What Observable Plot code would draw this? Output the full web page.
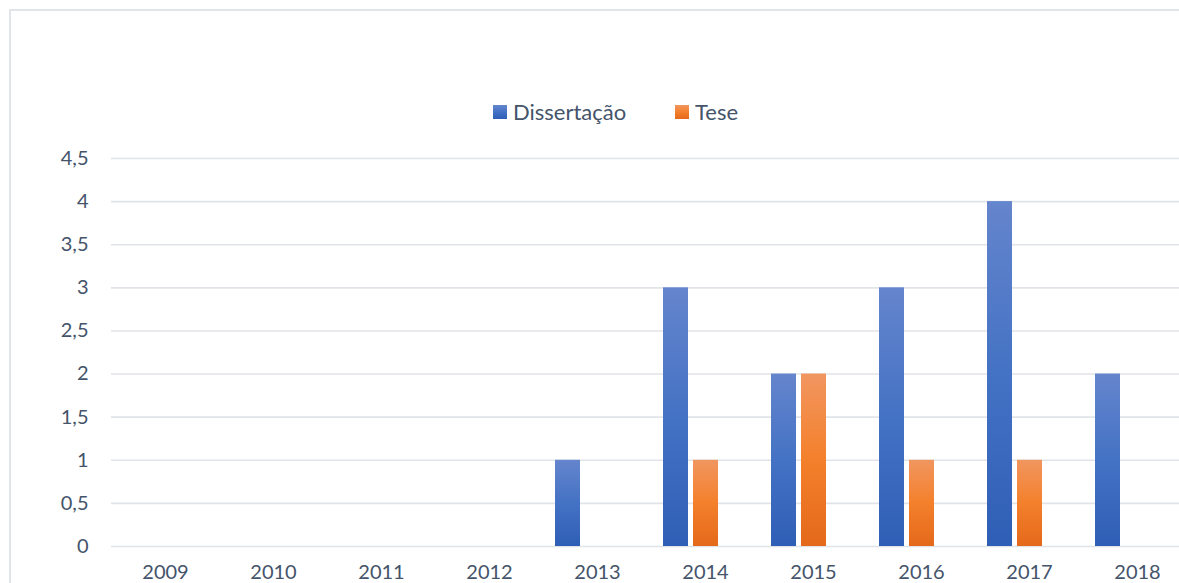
<!DOCTYPE html>
<html><head><meta charset="utf-8">
<script src="https://cdn.jsdelivr.net/npm/d3@7"></script>
<script src="https://cdn.jsdelivr.net/npm/@observablehq/plot@0.6"></script>
<style>
html,body{margin:0;padding:0;background:#fff;}
body{width:1179px;height:583px;overflow:hidden;position:relative;font-family:Lato,"Open Sans",sans-serif;color:#44546a;}
#frame{position:absolute;left:9px;top:9px;width:1400px;height:900px;border:2px solid #e1e4e9;box-sizing:border-box;}
#chart{position:absolute;left:0;top:0;width:1191px;}
#chart svg{max-width:none !important;}
.lg{position:absolute;top:99px;display:flex;align-items:center;font-size:22px;line-height:26px;white-space:nowrap;}
.sw{width:14px;height:14px;margin-right:6px;}
</style></head>
<body>
<div id="frame"></div>
<div id="chart"></div>
<div class="lg" style="left:493px"><div class="sw" style="background:linear-gradient(#6585cd,#4472c4 50%,#2f5eb6)"></div><span>Dissertação</span></div>
<div class="lg" style="left:675px"><div class="sw" style="background:linear-gradient(#f19660,#f4802b 50%,#e4691b)"></div><span>Tese</span></div>
<script>
const years = ["2009","2010","2011","2012","2013","2014","2015","2016","2017","2018"];
const seriesNames = ["Dissertação","Tese"];
const dissertacao = [0,0,0,0,1,3,2,3,4,2];
const tese = [0,0,0,0,0,1,2,1,1,0];
const yTicks = [0,0.5,1,1.5,2,2.5,3,3.5,4,4.5];

const rows = years.flatMap((yr,i)=>[
  {year:yr, serie:seriesNames[0], value:dissertacao[i]},
  {year:yr, serie:seriesNames[1], value:tese[i]}
]);

const fmt = d => String(d).replace(".", ",");

const svg = Plot.plot({
  width: 1191, height: 600,
  marginLeft: 111, marginRight: 0, marginTop: 158, marginBottom: 54,
  style: {fontFamily: 'Lato,"Open Sans",sans-serif', fontSize: "20px", color: "#44546a", background: "transparent", overflow: "visible"},
  fx: {domain: years, padding: 0, label: null},
  x: {domain: [...seriesNames, "(vazio)"], paddingInner: 1/6, paddingOuter: 0.3833, axis: null},
  y: {domain: [0, 4.5], label: null},
  color: {domain: seriesNames, range: ["url(#gDiss)", "url(#gTese)"]},
  marks: [
    Plot.ruleY(yTicks, {stroke: "#e0e3e8", strokeWidth: 1.6, strokeOpacity: 1}),
    Plot.barY(rows, {fx: "year", x: "serie", y: "value", fill: "serie"}),
    Plot.axisY({ticks: yTicks, tickSize: 0, tickPadding: 23, tickFormat: fmt, label: null, fill: "#44546a"}),
    Plot.axisFx({anchor: "bottom", tickSize: 0, tickPadding: 18, label: null, fill: "#44546a"})
  ]
});
svg.style.maxWidth = "none";

const defs = d3.create("svg:defs");
function grad(id, stops){
  const g = defs.append("linearGradient").attr("id", id).attr("x1",0).attr("y1",0).attr("x2",0).attr("y2",1);
  stops.forEach(([o,c]) => g.append("stop").attr("offset", o).attr("stop-color", c));
}
grad("gDiss", [[0,"#6585cd"],[0.5,"#4472c4"],[1,"#2f5eb6"]]);
grad("gTese", [[0,"#f19660"],[0.5,"#f4802b"],[1,"#e4691b"]]);
svg.insertBefore(defs.node(), svg.firstChild);
document.getElementById("chart").appendChild(svg);
</script>
</body></html>
